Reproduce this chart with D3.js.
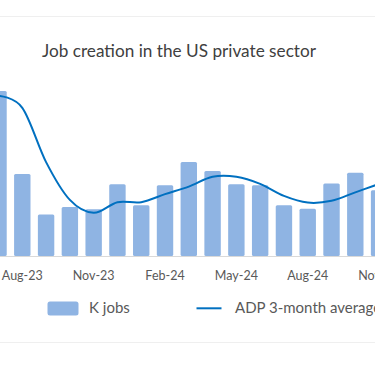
<!DOCTYPE html>
<html>
<head>
<meta charset="utf-8">
<script src="https://cdn.jsdelivr.net/npm/d3@7.9.0/dist/d3.min.js"></script>
<style>
  body { margin: 0; background: #fff; }
  svg { display: block; font-family: Lato, "Noto Sans", sans-serif; }
</style>
</head>
<body>
<div id="chart"></div>
<script>
// Months shown (the chart is cropped on both sides)
const months = ['Jul-23', 'Aug-23', 'Sep-23', 'Oct-23', 'Nov-23', 'Dec-23', 'Jan-24', 'Feb-24',
  'Mar-24', 'Apr-24', 'May-24', 'Jun-24', 'Jul-24', 'Aug-24', 'Sep-24', 'Oct-24', 'Nov-24'];

// Monthly private job gains, thousands
const kJobs = [371, 184, 93, 110, 105, 161, 114, 159, 211, 191, 161, 159, 114, 106, 163, 187, 148];

// ADP 3-month average, thousands
const adpAvg = [360, 333, 211, 126, 97, 121, 121, 139, 156, 178, 178, 162, 135, 120, 124, 143, 162];

const tickLabels = ['Aug-23', 'Nov-23', 'Feb-24', 'May-24', 'Aug-24', 'Nov-24'];

const width = 375;
const height = 366;
const baseY = 256;

const svg = d3.select('#chart')
  .append('svg')
  .attr('width', width)
  .attr('height', height);

// frame lines of the chart card
svg.append('line')
  .attr('x1', 0).attr('x2', width)
  .attr('y1', 16.5).attr('y2', 16.5)
  .attr('stroke', '#efefef');
svg.append('line')
  .attr('x1', 0).attr('x2', width)
  .attr('y1', 342.5).attr('y2', 342.5)
  .attr('stroke', '#efefef');

// Title
svg.append('text')
  .attr('x', 179)
  .attr('y', 57)
  .attr('text-anchor', 'middle')
  .attr('font-size', '17.2px')
  .attr('fill', '#404040')
  .text('Job creation in the US private sector');

// Scales
const x = d3.scaleBand()
  .domain(months)
  .range([-13.38, -13.38 + months.length * 23.786])
  .paddingInner(0.31)
  .paddingOuter(0.155);

const y = d3.scaleLinear()
  .domain([0, 400])
  .range([baseY, 78]);

// Bars
svg.append('g')
  .selectAll('rect')
  .data(months)
  .join('rect')
  .attr('x', (d) => x(d))
  .attr('y', (d, i) => y(kJobs[i]))
  .attr('width', x.bandwidth())
  .attr('height', (d, i) => baseY - y(kJobs[i]))
  .attr('rx', 1.5)
  .attr('fill', '#8fb4e3');

// X axis
const xAxis = d3.axisBottom(x)
  .tickValues(tickLabels)
  .tickSize(0)
  .tickPadding(15);

const gx = svg.append('g')
  .attr('transform', `translate(0,${baseY})`)
  .call(xAxis);
gx.select('.domain').remove();
gx.selectAll('text')
  .attr('font-size', '12.5px')
  .attr('font-family', 'Lato, "Noto Sans", sans-serif')
  .attr('fill', '#595959');

svg.append('line')
  .attr('x1', 0).attr('x2', width)
  .attr('y1', baseY + 0.5).attr('y2', baseY + 0.5)
  .attr('stroke', '#d9d9d9');

// Smoothed average line
const line = d3.line()
  .x((d, i) => x(months[i]) + x.bandwidth() / 2)
  .y((d) => y(d))
  .curve(d3.curveCardinal.tension(0));

svg.append('path')
  .datum(adpAvg)
  .attr('d', line)
  .attr('fill', 'none')
  .attr('stroke', '#0070c0')
  .attr('stroke-width', 2);

// Legend
const legend = svg.append('g');
legend.append('rect')
  .attr('x', 47.5).attr('y', 301.5)
  .attr('width', 31).attr('height', 14)
  .attr('rx', 2.5)
  .attr('fill', '#8fb4e3');
legend.append('text')
  .attr('x', 89)
  .attr('y', 313.3)
  .attr('font-size', '15px')
  .attr('fill', '#595959')
  .text('K jobs');
legend.append('line')
  .attr('x1', 196.5).attr('x2', 221.5)
  .attr('y1', 308.3).attr('y2', 308.3)
  .attr('stroke', '#0070c0')
  .attr('stroke-width', 2);
legend.append('text')
  .attr('x', 235)
  .attr('y', 313.3)
  .attr('font-size', '15px')
  .attr('fill', '#595959')
  .text('ADP 3-month average');
</script>
</body>
</html>
